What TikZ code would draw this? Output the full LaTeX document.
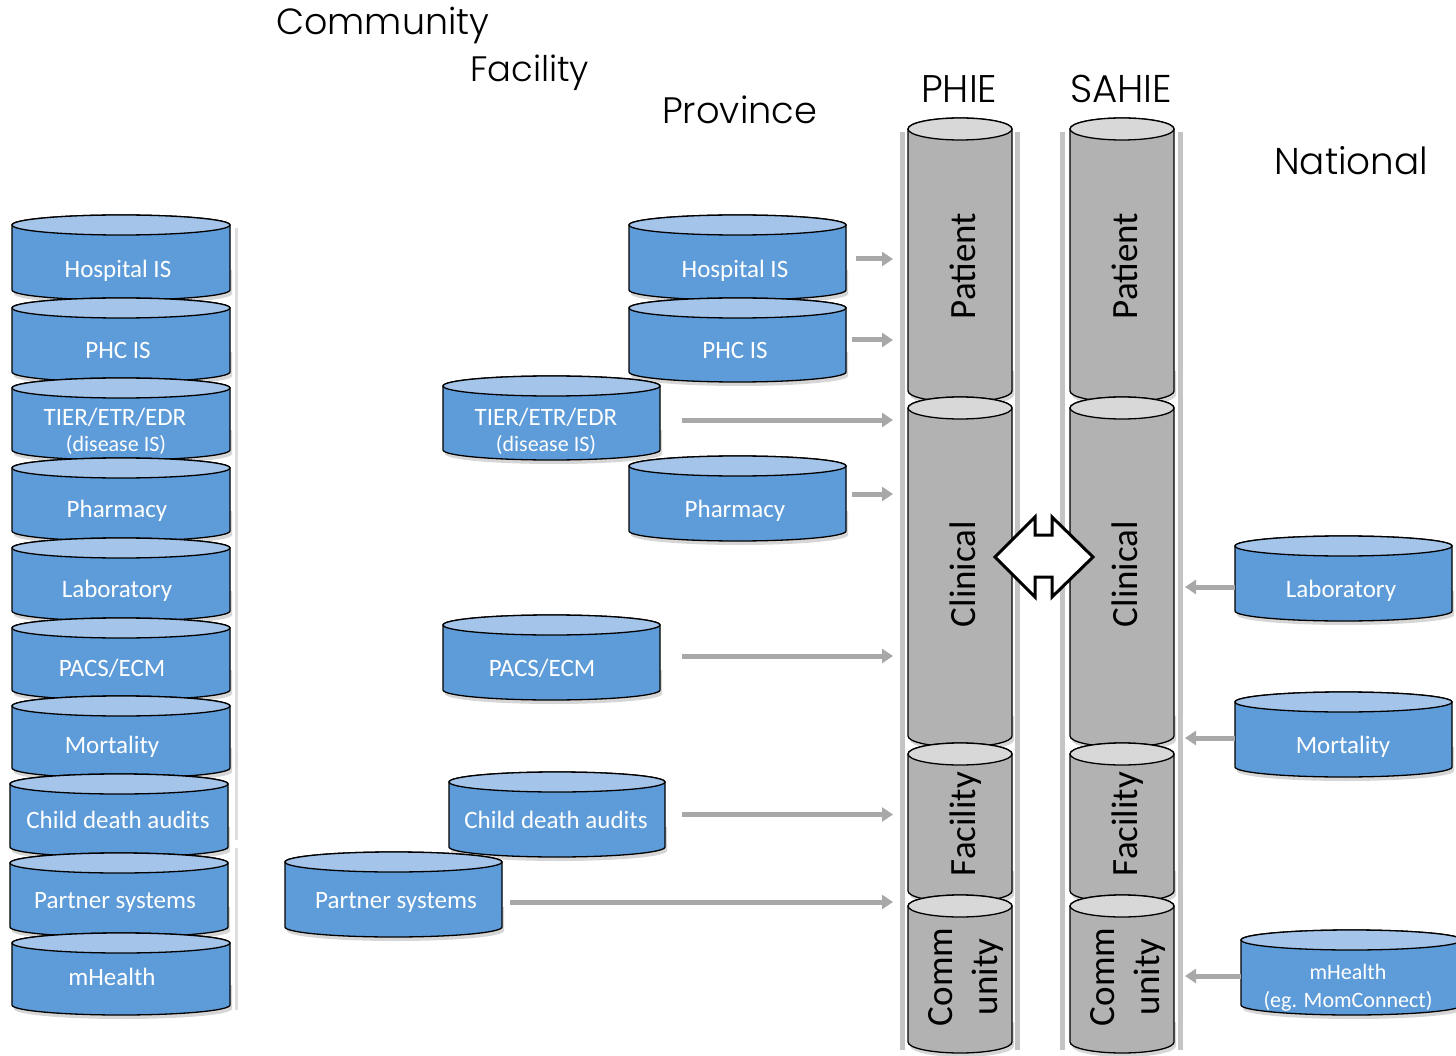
\documentclass[tikz,border=0pt]{standalone}
\usepackage{fontspec}
\setmainfont{Carlito}
\newfontfamily\hdfont{Poppins Light}
\usetikzlibrary{arrows.meta}
\definecolor{cylblue}{RGB}{94,156,217}
\definecolor{cyltop}{RGB}{164,196,234}
\definecolor{cylgray}{RGB}{178,178,178}
\definecolor{cylgtop}{RGB}{216,216,216}
\definecolor{arrgray}{RGB}{168,168,168}
\definecolor{bargray}{RGB}{196,196,196}
\definecolor{lbar}{RGB}{222,222,222}
% #1 name, #2 x1, #3 x2, #4 top, #5 bottom, #6 body colour, #7 top colour, #8 ry
\newcommand\dbcyl[8]{%
  \pgfmathsetmacro\cx{(#2+#3)/2}%
  \pgfmathsetmacro\rx{(#3-#2)/2}%
  \pgfmathsetmacro\ww{#3-#2}%
  \pgfmathsetmacro\yt{#4+#8}%
  \pgfmathsetmacro\yb{#5-#8}%
  \pgfmathsetmacro\ym{(#4+#5)/2}%
  \pgfmathsetmacro\hh{#5-#4}%
  \fill[black,opacity=.16] (#2+2,\yb-20) -- (#2+2,\yb+4) arc[start angle=180,end angle=360,x radius=\rx pt,y radius=#8 pt] -- (#3+2,\yb-20) -- cycle;
  \filldraw[fill=#6,cylline] (#2,\yt) -- (#2,\yb) arc[start angle=180,end angle=360,x radius=\rx pt,y radius=#8 pt] -- (#3,\yt) arc[start angle=0,end angle=180,x radius=\rx pt,y radius=#8 pt] -- cycle;
  \filldraw[fill=#7,cylline] (\cx,\yt) ellipse[x radius=\rx pt,y radius=#8 pt];
  \node[inner sep=0,minimum width=\ww pt,minimum height=\hh pt] (#1) at (\cx,\ym) {};
}
\begin{document}
\begin{tikzpicture}[x=1pt,y=-1pt,
  cylline/.style={draw=black,line width=1.3pt},
  bluetxt/.style={text=white,font=\fontsize{25}{30}\selectfont,inner sep=0,anchor=base},
  bluesmall/.style={bluetxt,font=\fontsize{22}{26}\selectfont},
  graytxt/.style={text=black,font=\fontsize{37}{44}\selectfont,rotate=90,inner sep=0,anchor=base},
  heading/.style={anchor=base west,inner sep=0,font=\hdfont\fontsize{36}{40}\selectfont},
  arr/.style={draw=arrgray,line width=5pt,-{Triangle[length=11pt,width=14pt]}},
  colbar/.style={draw=bargray,line width=5pt},
  dblarrow/.style={draw=black,fill=white,line width=3pt,line join=miter}]
\useasboundingbox (0,0) rectangle (1456,1056);
\fill[white] (0,0) rectangle (1456,1056);

% headings
\node[heading] (hcom) at (276,35) {\resizebox{213pt}{!}{Community}};
\node[heading] (hfac) at (470,82) {\resizebox{119pt}{!}{Facility}};
\node[heading] (hprov) at (662,124) {\resizebox{155pt}{!}{Province}};
\node[heading] (hphie) at (921,103) {\resizebox{76pt}{!}{PHIE}};
\node[heading] (hsahie) at (1070,103) {\resizebox{102pt}{!}{SAHIE}};
\node[heading] (hnat) at (1274,175) {\resizebox{154pt}{!}{National}};

% left stack bar
\draw[draw=lbar,line width=3pt] (236,228) -- (236,840);
\draw[draw=lbar,line width=3pt] (236,848) -- (236,1010);

% column bars
\draw[colbar] (902,132) -- (902,1050);
\draw[colbar] (1017,132) -- (1017,1050);
\draw[colbar] (1062,132) -- (1062,1050);
\draw[colbar] (1180,132) -- (1180,1050);
\coordinate (phieIn) at (893,0);
\coordinate (sahieIn) at (1185,0);

% left stack
\dbcyl{hospL}{12}{230}{215}{300}{cylblue}{cyltop}{10}
\dbcyl{phcL}{12}{230}{298}{382}{cylblue}{cyltop}{10}
\dbcyl{tierL}{12}{230}{378}{460}{cylblue}{cyltop}{10}
\dbcyl{pharmL}{12}{230}{458}{541}{cylblue}{cyltop}{10}
\dbcyl{labL}{12}{230}{538}{621}{cylblue}{cyltop}{10}
\dbcyl{pacsL}{12}{230}{618}{700}{cylblue}{cyltop}{10}
\dbcyl{mortL}{12}{230}{696}{778}{cylblue}{cyltop}{10}
\dbcyl{childL}{10}{228}{774}{857}{cylblue}{cyltop}{10}
\dbcyl{partL}{10}{228}{853}{937}{cylblue}{cyltop}{10}
\dbcyl{mhL}{12}{230}{933}{1015}{cylblue}{cyltop}{10}
\node[bluetxt] (hospL-t) at (118,278) {Hospital IS};
\node[bluetxt] (phcL-t) at (118,359) {PHC IS};
\node[bluetxt] (tierL-t1) at (115,425) {TIER/ETR/EDR};
\node[bluesmall] (tierL-t2) at (116,451) {(disease IS)};
\node[bluetxt] (pharmL-t) at (117,517) {Pharmacy};
\node[bluetxt] (labL-t) at (117,597) {Laboratory};
\node[bluetxt] (pacsL-t) at (112,676) {PACS/ECM};
\node[bluetxt] (mortL-t) at (112,753) {Mortality};
\node[bluetxt] (childL-t) at (118,828) {Child death audits};
\node[bluetxt] (partL-t) at (115,908) {Partner systems};
\node[bluetxt] (mhL-t) at (112,985) {mHealth};

% province column
\dbcyl{hospM}{629}{846}{215}{300}{cylblue}{cyltop}{10}
\dbcyl{phcM}{629}{846}{298}{382}{cylblue}{cyltop}{10}
\dbcyl{tierM}{443}{660}{376}{460}{cylblue}{cyltop}{10}
\dbcyl{pharmM}{629}{846}{456}{541}{cylblue}{cyltop}{10}
\dbcyl{pacsM}{443}{660}{615}{700}{cylblue}{cyltop}{10}
\dbcyl{childM}{449}{665}{772}{857}{cylblue}{cyltop}{10}
\dbcyl{partM}{285}{502}{852}{937}{cylblue}{cyltop}{10}
\node[bluetxt] (hospM-t) at (735,278) {Hospital IS};
\node[bluetxt] (phcM-t) at (735,359) {PHC IS};
\node[bluetxt] (tierM-t1) at (546,425) {TIER/ETR/EDR};
\node[bluesmall] (tierM-t2) at (546,451) {(disease IS)};
\node[bluetxt] (pharmM-t) at (735,517) {Pharmacy};
\node[bluetxt] (pacsM-t) at (542,676) {PACS/ECM};
\node[bluetxt] (childM-t) at (556,828) {Child death audits};
\node[bluetxt] (partM-t) at (396,908) {Partner systems};

% national
\dbcyl{labR}{1235}{1452}{536}{621}{cylblue}{cyltop}{10}
\dbcyl{mortR}{1235}{1452}{692}{777}{cylblue}{cyltop}{10}
\dbcyl{mhR}{1241}{1462}{930}{1015}{cylblue}{cyltop}{10}
\node[bluetxt] (labR-t) at (1341,597) {Laboratory};
\node[bluetxt] (mortR-t) at (1343,753) {Mortality};
\node[bluesmall] (mhR-t1) at (1348,979) {mHealth};
\node[bluesmall] (mhR-t2) at (1348,1007) {(eg. MomConnect)};

% PHIE / SAHIE columns
\dbcyl{phiePat}{908}{1012}{118}{402}{cylgray}{cylgtop}{11}
\dbcyl{phieCli}{908}{1012}{397}{747}{cylgray}{cylgtop}{11}
\dbcyl{phieFac}{908}{1012}{743}{902}{cylgray}{cylgtop}{11}
\dbcyl{phieCom}{908}{1012}{895}{1053}{cylgray}{cylgtop}{11}
\dbcyl{sahiePat}{1070}{1174}{118}{402}{cylgray}{cylgtop}{11}
\dbcyl{sahieCli}{1070}{1174}{397}{747}{cylgray}{cylgtop}{11}
\dbcyl{sahieFac}{1070}{1174}{743}{902}{cylgray}{cylgtop}{11}
\dbcyl{sahieCom}{1070}{1174}{895}{1053}{cylgray}{cylgtop}{11}
\node[graytxt] (phiePat-t) at (975,266) {Patient};
\node[graytxt] (phieCli-t) at (975,574) {Clinical};
\node[graytxt] (phieFac-t) at (975,824) {Facility};
\node[graytxt] (phieCom-t1) at (952,977) {Comm};
\node[graytxt] (phieCom-t2) at (997,977) {unity};
\node[graytxt] (sahiePat-t) at (1137,266) {Patient};
\node[graytxt] (sahieCli-t) at (1137,574) {Clinical};
\node[graytxt] (sahieFac-t) at (1137,824) {Facility};
\node[graytxt] (sahieCom-t1) at (1114,977) {Comm};
\node[graytxt] (sahieCom-t2) at (1159,977) {unity};

% exchange arrow
\draw[dblarrow] (995,557) -- (1035,517) -- (1035,535) -- (1052,535) -- (1052,517) -- (1093,557) -- (1052,597) -- (1052,577) -- (1035,577) -- (1035,597) -- cycle;

% connectors to PHIE
\draw[arr] ([xshift=10pt,yshift=-1.5pt]hospM.east) coordinate (a1) -- (phieIn |- a1);
\draw[arr] ([xshift=6pt]phcM.east) coordinate (a2) -- (phieIn |- a2);
\draw[arr] ([xshift=22pt,yshift=-2pt]tierM.east) coordinate (a3) -- (phieIn |- a3);
\draw[arr] ([xshift=6pt,yshift=4.5pt]pharmM.east) coordinate (a4) -- (phieIn |- a4);
\draw[arr] ([xshift=22pt,yshift=1.5pt]pacsM.east) coordinate (a5) -- (phieIn |- a5);
\draw[arr] ([xshift=17pt]childM.east) coordinate (a6) -- (phieIn |- a6);
\draw[arr] ([xshift=8pt,yshift=-7.5pt]partM.east) coordinate (a7) -- (phieIn |- a7);
% connectors to SAHIE
\draw[arr] ([yshift=-8.5pt]labR.west) coordinate (b1) -- (sahieIn |- b1);
\draw[arr] ([yshift=-3.5pt]mortR.west) coordinate (b2) -- (sahieIn |- b2);
\draw[arr] ([yshift=-3.5pt]mhR.west) coordinate (b3) -- (sahieIn |- b3);
\end{tikzpicture}
\end{document}
